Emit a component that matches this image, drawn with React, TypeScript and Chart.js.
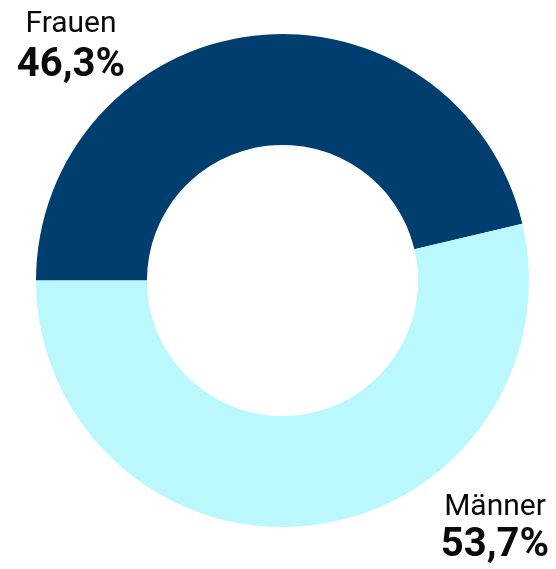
import React, { useEffect, useRef } from "react";
import { Chart, registerables } from "chart.js";

Chart.register(...registerables);

const categories = ["Frauen", "Männer"];
const shares = [46.3, 53.7];
const colors = ["#003e6f", "#bbf8fd"];

const fmt = (v: number) => v.toFixed(1).replace(".", ",") + "%";

const labelPlugin = {
  id: "sideLabels",
  afterDraw(chart: any) {
    const ctx = chart.ctx;
    const spots = [
      { x: 71, y1: 32, y2: 76 },
      { x: 495, y1: 515, y2: 556 },
    ];
    ctx.save();
    ctx.fillStyle = "#0a0a0a";
    ctx.textAlign = "center";
    ctx.textBaseline = "alphabetic";
    categories.forEach((c, i) => {
      const s = spots[i];
      ctx.font = "400 30px Roboto";
      ctx.fillText(c, s.x, s.y1);
      ctx.font = "700 40px Roboto";
      ctx.fillText(fmt(shares[i]), s.x, s.y2);
    });
    ctx.restore();
  },
};

export default function App() {
  const ref = useRef<HTMLCanvasElement>(null);
  useEffect(() => {
    if (!ref.current) return;
    const chart = new Chart(ref.current, {
      type: "doughnut",
      data: {
        labels: categories,
        datasets: [
          {
            data: shares,
            backgroundColor: colors,
            borderWidth: 0,
          },
        ],
      },
      options: {
        animation: false,
        responsive: false,
        rotation: -90,
        cutout: "55%",
        layout: { padding: { left: 36, top: 34, right: 27, bottom: 42 } },
        plugins: {
          legend: { display: false },
          tooltip: { enabled: false },
        },
      },
      plugins: [labelPlugin],
    });
    return () => chart.destroy();
  }, []);
  return (
    <div style={{ position: "fixed", left: 0, top: 0, width: 556, height: 569, background: "#fff" }}>
      <canvas ref={ref} width={556} height={569} style={{ width: 556, height: 569 }} />
    </div>
  );
}
